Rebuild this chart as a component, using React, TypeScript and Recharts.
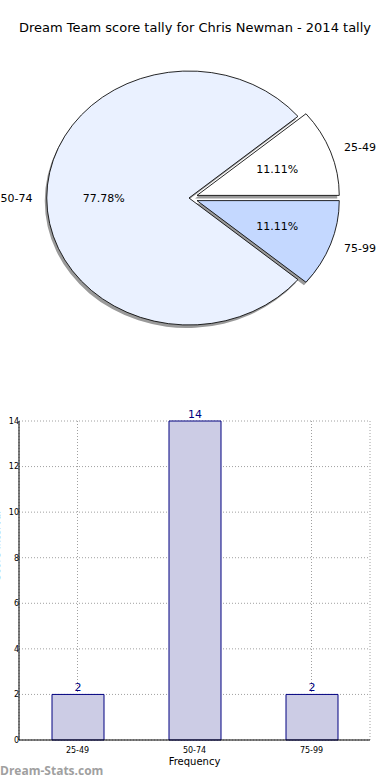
import React from 'react'
import {
  PieChart, Pie, Cell, BarChart, Bar, XAxis, YAxis, CartesianGrid, LabelList,
} from 'recharts'

const categories = ['25-49', '50-74', '75-99']
const counts = [2, 14, 2]
const sliceColors = ['#ffffff', '#eaf1ff', '#c4d8ff']
const explode = [0.06, 0, 0.06]
const yTicks = [0, 2, 4, 6, 8, 10, 12, 14]

const FONT = '"DejaVu Sans", Verdana, sans-serif'
const SX = 1.12 // matplotlib pie is stretched horizontally
const CX = 189
const CY = 198
const R = 127
const RADIAN = Math.PI / 180

const pieData = categories.map((name, i) => ({ name, value: counts[i] }))
const barData = categories.map((name, i) => ({ name, count: counts[i] }))

const total = counts.reduce((a, b) => a + b, 0)
const mids: number[] = []
let acc = 0
counts.forEach((c) => {
  mids.push(((acc + c / 2) / total) * 360)
  acc += c
})
const offsets = mids.map((m, i) => ({
  dx: explode[i] * R * Math.cos(m * RADIAN),
  dy: -explode[i] * R * Math.sin(m * RADIAN),
}))

const renderLabel = (props: any) => {
  const { index, midAngle, percent, name } = props
  const ox = CX + offsets[index].dx
  const oy = CY + offsets[index].dy
  const c = Math.cos(-midAngle * RADIAN)
  const s = Math.sin(-midAngle * RADIAN)
  const lx = ox + R * 1.1 * c
  const ly = oy + R * 1.1 * s
  const px = ox + R * 0.6 * c
  const py = oy + R * 0.6 * s
  return (
    <g key={'lbl' + index}>
      <g transform={`translate(${lx},${ly}) scale(${1 / SX},1)`}>
        <text x={0} y={0} fontSize={11} fontFamily={FONT} fill="#000"
          textAnchor={c >= 0 ? 'start' : 'end'} dominantBaseline="central">{name}</text>
      </g>
      <g transform={`translate(${px},${py}) scale(${1 / SX},1)`}>
        <text x={0} y={0} fontSize={11} fontFamily={FONT} fill="#000"
          textAnchor="middle" dominantBaseline="central">{(percent * 100).toFixed(2)}%</text>
      </g>
    </g>
  )
}

const noMargin = { top: 0, right: 0, bottom: 0, left: 0 }

export default function App() {
  return (
    <div style={{ position: 'absolute', left: 0, top: 0, width: 390, height: 780, background: '#fff', fontFamily: FONT, overflow: 'hidden' }}>
      <div style={{ position: 'absolute', left: 0, top: 20, width: 390, textAlign: 'center', fontSize: 13, color: '#000' }}>
        Dream Team score tally for Chris Newman - 2014 tally
      </div>

      <div style={{ position: 'absolute', left: 0, top: 0, width: 390, height: 380, transform: `scaleX(${SX})`, transformOrigin: `${CX}px ${CY}px` }}>
        <PieChart width={390} height={380} margin={noMargin}>
          {categories.map((_, k) => (
            <Pie key={'sh' + k} data={pieData} dataKey="value" nameKey="name"
              cx={CX + offsets[k].dx - 2 / SX} cy={CY + offsets[k].dy + 3} outerRadius={R}
              startAngle={0} endAngle={360} isAnimationActive={false} labelLine={false}>
              {pieData.map((_, i) => (
                <Cell key={i} fill={i === k ? '#9a9a9a' : 'none'} stroke="none" />
              ))}
            </Pie>
          ))}
          {categories.map((_, k) => (
            <Pie key={'sl' + k} data={pieData} dataKey="value" nameKey="name"
              cx={CX + offsets[k].dx} cy={CY + offsets[k].dy} outerRadius={R}
              startAngle={0} endAngle={360} isAnimationActive={false} labelLine={false}>
              {pieData.map((_, i) => (
                <Cell key={i} fill={i === k ? sliceColors[i] : 'none'}
                  stroke={i === k ? '#000' : 'none'} strokeWidth={0.8} />
              ))}
            </Pie>
          ))}
          <Pie data={pieData} dataKey="value" nameKey="name" cx={CX} cy={CY} outerRadius={R}
            startAngle={0} endAngle={360} isAnimationActive={false}
            labelLine={false} label={renderLabel}>
            {pieData.map((_, i) => (
              <Cell key={i} fill="none" stroke="none" />
            ))}
          </Pie>
        </PieChart>
      </div>

      <div style={{ position: 'absolute', left: 0, top: 400 }}>
        <BarChart width={390} height={380} data={barData}
          margin={{ top: 21, right: 20, bottom: 8, left: 0 }} barSize={52}>
          <CartesianGrid stroke="#a0a0a0" strokeDasharray="1 2" />
          <XAxis dataKey="name" tickLine={false} tickSize={2} axisLine={{ stroke: '#000' }}
            tick={{ fontSize: 8, fill: '#000', fontFamily: FONT }} tickMargin={5} height={32}
            label={{ value: 'Frequency', position: 'insideBottom', offset: 7, fontSize: 10, fill: '#000', fontFamily: FONT }} />
          <XAxis xAxisId="top" dataKey="name" orientation="top" tick={false} tickLine={false}
            axisLine={{ stroke: '#000' }} height={0} />
          <YAxis domain={[0, 14]} ticks={yTicks} tickLine={false} tickSize={2} axisLine={{ stroke: '#000' }}
            tick={{ fontSize: 8, fill: '#000', fontFamily: FONT, dx: 4 }} tickMargin={2} width={19}
            label={{ value: 'Score Interval', angle: -90, position: 'insideLeft', offset: -4, fontSize: 10, fill: '#333', fontFamily: FONT }} />
          <YAxis yAxisId="right" orientation="right" domain={[0, 14]} tick={false} tickLine={false}
            axisLine={{ stroke: '#000' }} width={0} />
          <Bar dataKey="count" fill="#cccce5" stroke="#000080" strokeWidth={1} isAnimationActive={false}>
            <LabelList dataKey="count" position="top" offset={3} fill="#000080" fontSize={11} fontFamily={FONT} />
          </Bar>
        </BarChart>
      </div>

      <div style={{ position: 'absolute', left: 0, top: 762, fontSize: 12, fontWeight: 'bold', color: '#a0a0a0', fontFamily: '"Open Sans", "DejaVu Sans", sans-serif' }}>
        Dream-Stats.com
      </div>
    </div>
  )
}
